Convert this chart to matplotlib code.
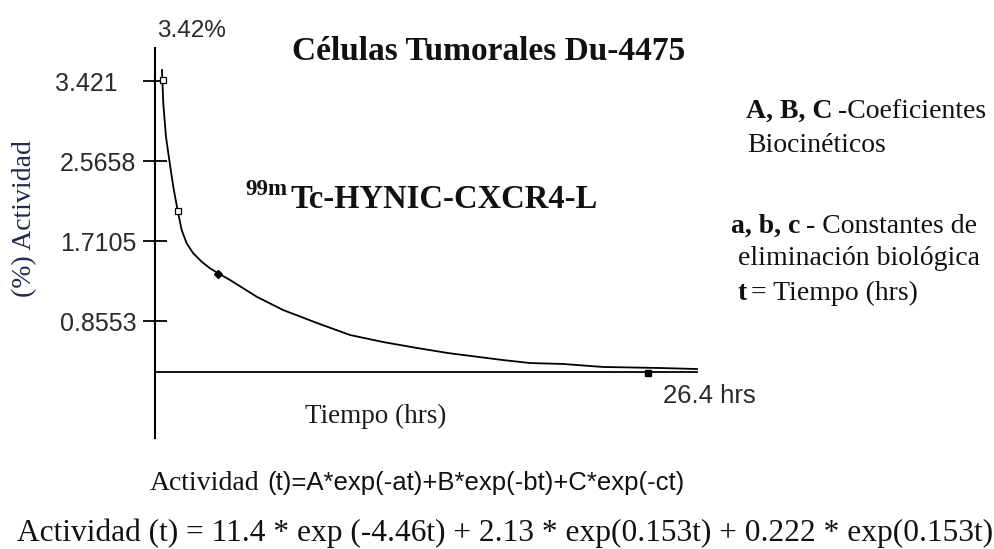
import matplotlib.pyplot as plt
from matplotlib.transforms import ScaledTranslation

# curve (time in hrs, % activity)
t_curve = [0.375, 0.445, 0.589, 0.766, 0.980, 1.216, 1.430, 1.698, 2.051, 2.501, 2.946,
           3.390, 4.017, 4.730, 5.447, 6.86, 8.68, 10.44, 12.21, 14.03, 15.69, 16.50,
           18.64, 20.09, 21.85, 24.00, 27.05, 29.03]
act_curve = [3.539, 3.183, 2.826, 2.577, 2.291, 2.035, 1.828, 1.686, 1.579, 1.489, 1.419,
             1.365, 1.294, 1.205, 1.115, 0.973, 0.834, 0.706, 0.631, 0.567, 0.513, 0.492,
             0.438, 0.406, 0.396, 0.364, 0.353, 0.342]

# measured points
t_open = [0.43, 1.23]
act_open = [3.43, 2.03]
t_diamond = [3.37]
act_diamond = [1.36]
t_end = [26.4]
act_end = [0.30]

ytick_vals = [0.8553, 1.7105, 2.5658, 3.421]
ytick_labels = ['0.8553', '1.7105', '2.5658', '3.421']

baseline = 0.31
t_max = 29.03

serif = 'Liberation Serif'
sans = 'Liberation Sans'
grey = '#2a2a2a'

fig = plt.figure(figsize=(9.95, 5.49), dpi=100)
ax = fig.add_axes([0, 0, 1, 1])
ax.set_xlim(-8.30, 44.99)
ax.set_ylim(-1.582, 4.287)
ax.patch.set_visible(False)


def px(x, y):
    return x / 995, 1 - y / 549


ax.plot(t_curve, act_curve, color='black', lw=1.3)
ax.plot(t_open, act_open, 's', ms=4, mfc='white', mec='black', mew=0.9)
ax.plot(t_diamond, act_diamond, 'D', ms=4.5, color='black')
ax.plot(t_end, act_end, 's', ms=4.5, color='black')

for s in ['top', 'right']:
    ax.spines[s].set_visible(False)
ax.spines['left'].set_position(('data', 0))
ax.spines['left'].set_bounds(-0.395, 3.774)
ax.spines['left'].set_linewidth(1.5)
ax.spines['bottom'].set_position(('data', baseline))
ax.spines['bottom'].set_bounds(0, t_max)
ax.spines['bottom'].set_linewidth(1.3)
ax.set_xticks([])
ax.set_yticks(ytick_vals, ytick_labels)
ax.tick_params(axis='y', direction='inout', length=17, width=1.3, pad=5,
               labelsize=18, labelcolor=grey)
for lab in ax.get_yticklabels():
    lab.set_fontfamily(sans)
# top label sits further left in the original
top_lab = ax.get_yticklabels()[-1]
top_lab.set_transform(top_lab.get_transform() + ScaledTranslation(-0.19, 0, fig.dpi_scale_trans))

# labels round the axes
fig.text(*px(157, 37), '3.42%', fontsize=17.5, family=sans, color=grey, va='baseline')
fig.text(*px(663, 403), '26.4 hrs', fontsize=18.5, family=sans, color=grey, va='baseline')
fig.text(*px(376, 423), 'Tiempo (hrs)', fontsize=19.5, family=serif, color='#1a1a1a',
         ha='center', va='baseline')
fig.text(*px(25, 219), '(%) Actividad', fontsize=20, family=serif, color='#1f2a4d',
         rotation=90, ha='center', va='center')

fig.text(*px(489, 60), 'Células Tumorales Du-4475', fontsize=24, family=serif,
         weight='bold', ha='center', va='baseline', color='#111111')
fig.text(*px(287, 195), '99m', fontsize=16.5, family=serif, weight='bold', ha='right',
         va='baseline', color='#111111')
fig.text(*px(290, 208), 'Tc-HYNIC-CXCR4-L', fontsize=23.5, family=serif, weight='bold',
         va='baseline', color='#111111')

# notes on the right
note = dict(fontsize=20, family=serif, va='baseline', color='#111111')
fig.text(*px(746, 118), 'A, B, C', weight='bold', **note)
fig.text(*px(838, 118), '-Coeficientes', **note)
fig.text(*px(747, 152), 'Biocinéticos', **note)
fig.text(*px(731, 233), 'a, b, c', weight='bold', **note)
fig.text(*px(806, 233), '- Constantes de', **note)
fig.text(*px(738, 265), 'eliminación biológica', **note)
fig.text(*px(738, 300), 't', weight='bold', **note)
fig.text(*px(751, 300), '= Tiempo (hrs)', **note)

# formulas
fig.text(*px(150, 490), 'Actividad', fontsize=20, family=serif, va='baseline', color='#111111')
fig.text(*px(267, 490), '(t)=A*exp(-at)+B*exp(-bt)+C*exp(-ct)', fontsize=18.5,
         family=sans, va='baseline', color='#111111')
fig.text(*px(17, 541), 'Actividad (t) = 11.4 * exp (-4.46t) + 2.13 * exp(0.153t) + 0.222 * exp(0.153t)',
         fontsize=22.6, family=serif, va='baseline', color='#111111')

fig.savefig('out.png', dpi=100, facecolor='white')
